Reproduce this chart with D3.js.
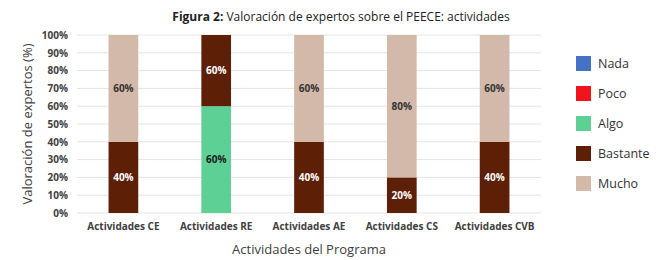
<!DOCTYPE html>
<html>
<head>
<meta charset="utf-8">
<script src="https://cdn.jsdelivr.net/npm/d3@7"></script>
<style>
  body { margin: 0; background: #fff; }
  svg { font-family: "Open Sans", "Noto Sans", sans-serif; }
</style>
</head>
<body>
<svg id="chart" width="660" height="260"></svg>
<script>
var categories = ["Actividades CE", "Actividades RE", "Actividades AE", "Actividades CS", "Actividades CVB"];
var seriesNames = ["Nada", "Poco", "Algo", "Bastante", "Mucho"];
var nada = [0, 0, 0, 0, 0];
var poco = [0, 0, 0, 0, 0];
var algo = [0, 60, 0, 0, 0];
var bastante = [40, 60, 40, 20, 40];
var mucho = [60, 0, 60, 80, 60];
var yTicks = [0, 10, 20, 30, 40, 50, 60, 70, 80, 90, 100];

var colors = ["#4472c4", "#f2141c", "#5dd096", "#5e1f07", "#d3b9aa"];
var labelColors = ["#fff", "#fff", "#1a1a1a", "#fff", "#333"];

var width = 660, height = 260;
var margin = { top: 35, right: 119, bottom: 47, left: 77 };

var svg = d3.select("#chart");

var rows = categories.map((c, i) => ({
    cat: c, Nada: nada[i], Poco: poco[i], Algo: algo[i], Bastante: bastante[i], Mucho: mucho[i]
}));

var stack = d3.stack().keys(seriesNames);
var layers = stack(rows);

var xScale = d3.scaleBand()
    .domain(categories)
    .range([margin.left, width - margin.right])
    .paddingInner(0.68)
    .paddingOuter(0.34);

var yScale = d3.scaleLinear()
    .domain([0, 100])
    .range([height - margin.bottom, margin.top])
    .clamp(true);

// gridlines
svg.append("g")
    .selectAll("line")
    .data(yTicks)
    .enter()
    .append("line")
    .attr("x1", margin.left)
    .attr("x2", width - margin.right)
    .attr("y1", d => yScale(d))
    .attr("y2", d => yScale(d))
    .attr("stroke", "#e4e4e4")
    .attr("stroke-width", 1);

// y axis
var yAxis = d3.axisLeft(yScale)
    .tickValues(yTicks)
    .tickFormat(d => d + "%")
    .tickSize(0)
    .tickPadding(9);

svg.append("g")
    .attr("transform", `translate(${margin.left},0)`)
    .call(yAxis)
    .call(g => g.select(".domain").remove())
    .selectAll("text")
    .style("font-size", "10px")
    .style("font-weight", "bold")
    .style("fill", "#404040")
    .style("font-family", "'Open Sans', sans-serif");

// x axis
var xAxis = d3.axisBottom(xScale).tickSize(0).tickPadding(10);

svg.append("g")
    .attr("transform", `translate(0,${height - margin.bottom})`)
    .call(xAxis)
    .call(g => g.select(".domain").remove())
    .selectAll("text")
    .style("font-size", "10px")
    .style("font-weight", "bold")
    .style("fill", "#404040")
    .style("font-family", "'Open Sans', sans-serif");

// bars
var layer = svg.selectAll(".layer")
    .data(layers)
    .enter()
    .append("g")
    .attr("fill", (d, i) => colors[i]);

layer.selectAll("rect")
    .data(d => d)
    .enter()
    .append("rect")
    .attr("x", d => xScale(d.data.cat))
    .attr("y", d => yScale(d[1]))
    .attr("width", xScale.bandwidth())
    .attr("height", d => yScale(d[0]) - yScale(d[1]));

// value labels
layers.forEach((l, i) => {
    svg.append("g")
        .selectAll("text")
        .data(l.filter(d => d[1] - d[0] > 0))
        .enter()
        .append("text")
        .attr("x", d => xScale(d.data.cat) + xScale.bandwidth() / 2)
        .attr("y", d => (yScale(d[0]) + yScale(d[1])) / 2)
        .attr("dy", "0.35em")
        .attr("text-anchor", "middle")
        .style("font-size", "10px")
        .style("font-weight", "bold")
        .style("fill", labelColors[i])
        .text(d => (d[1] - d[0]) + "%");
});

// axis titles
svg.append("text")
    .attr("transform", `translate(27,${(margin.top + height - margin.bottom) / 2}) rotate(-90)`)
    .attr("text-anchor", "middle")
    .attr("dy", "0.35em")
    .style("font-size", "13px")
    .style("fill", "#404040")
    .text("Valoración de expertos (%)");

svg.append("text")
    .attr("x", (margin.left + width - margin.right) / 2)
    .attr("y", 254)
    .attr("text-anchor", "middle")
    .style("font-size", "13px")
    .style("fill", "#404040")
    .text("Actividades del Programa");

// title
var title = svg.append("text")
    .attr("x", 341)
    .attr("y", 21)
    .attr("text-anchor", "middle")
    .style("font-size", "12px")
    .style("fill", "#222");
title.append("tspan").style("font-weight", "bold").text("Figura 2: ");
title.append("tspan").text("Valoración de expertos sobre el PEECE: actividades");

// legend
var legend = svg.append("g")
    .selectAll("g")
    .data(seriesNames)
    .enter()
    .append("g")
    .attr("transform", (d, i) => `translate(576,${56 + i * 30})`);

legend.append("rect")
    .attr("width", 15)
    .attr("height", 15)
    .attr("fill", (d, i) => colors[i]);

legend.append("text")
    .attr("x", 22)
    .attr("y", 7.5)
    .attr("dy", "0.35em")
    .style("font-size", "12.5px")
    .style("fill", "#333")
    .text(d => d);
</script>
</body>
</html>
